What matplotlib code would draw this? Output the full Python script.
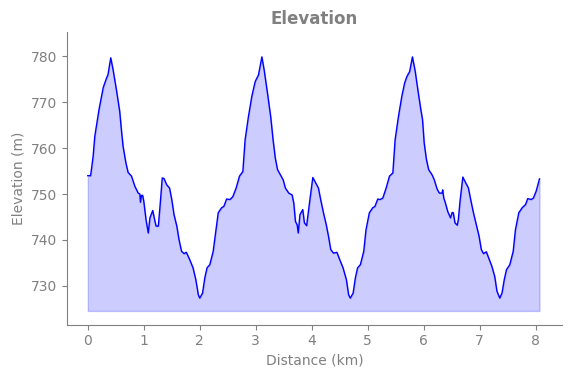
import numpy as np
import matplotlib
matplotlib.use('Agg')
import matplotlib.pyplot as plt

# Perfil de elevación (distancia en km, elevación en m)
distancia_km = [
    0.00, 0.05, 0.095, 0.125, 0.20, 0.275, 0.335, 0.36, 0.41, 0.45,
    0.51, 0.57, 0.60, 0.63, 0.68, 0.72, 0.78, 0.84, 0.90, 0.93,
    0.94, 0.96, 0.98, 1.00, 1.04, 1.08, 1.11, 1.16, 1.20, 1.22,
    1.26, 1.29, 1.33, 1.36, 1.41, 1.46, 1.50, 1.54, 1.59, 1.63,
    1.675, 1.72, 1.76, 1.82, 1.88, 1.93, 1.975, 2.00, 2.05, 2.09,
    2.13, 2.18, 2.24, 2.29, 2.33, 2.39, 2.43, 2.48, 2.54, 2.59,
    2.65, 2.71,
    2.77, 2.81, 2.87, 2.93, 2.99, 3.05, 3.11, 3.15, 3.21, 3.27,
    3.31, 3.35, 3.39, 3.44, 3.49, 3.53, 3.59, 3.65, 3.68, 3.71,
    3.74, 3.76, 3.79, 3.84, 3.87, 3.91, 3.96, 4.02, 4.06, 4.12,
    4.16, 4.21, 4.26, 4.30, 4.34, 4.39, 4.45, 4.50, 4.56, 4.62,
    4.66, 4.69, 4.74, 4.78, 4.82, 4.87, 4.93, 4.97, 5.03, 5.09,
    5.13, 5.18, 5.22, 5.27, 5.33, 5.39, 5.45, 5.49, 5.55, 5.61,
    5.66, 5.70, 5.75,
    5.80, 5.85, 5.91, 5.95, 5.98, 6.01, 6.05, 6.09, 6.15, 6.19,
    6.24, 6.28, 6.33, 6.34, 6.36, 6.39, 6.43, 6.48, 6.51, 6.53,
    6.56, 6.60, 6.62, 6.65, 6.70, 6.74, 6.80, 6.84, 6.89, 6.94,
    6.99, 7.03, 7.07, 7.12, 7.17, 7.22, 7.27, 7.31, 7.36, 7.40,
    7.44, 7.48, 7.54, 7.60, 7.64, 7.70, 7.76, 7.82, 7.86, 7.92,
    7.96, 8.01, 8.07,
]
elevacion_m = [
    754.0, 754.0, 758.2, 762.6, 768.4, 773.2, 775.3, 776.0, 779.7, 777.2,
    772.8, 768.0, 764.0, 760.4, 756.8, 754.7, 753.9, 751.7, 750.2, 750.0,
    748.2, 749.7, 749.7, 748.4, 744.4, 741.5, 744.8, 746.4, 744.0, 743.0,
    743.0, 747.3, 753.5, 753.4, 752.0, 751.3, 748.8, 745.5, 743.0, 740.0,
    737.5, 737.0, 737.3, 735.7, 733.9, 731.3, 728.0, 727.3, 728.4, 731.7,
    733.9, 734.6, 737.5, 742.2, 745.9, 747.0, 747.3, 748.9, 748.8, 749.4,
    751.3, 753.9,
    754.9, 761.8, 766.9, 771.3, 774.5, 776.0, 779.9, 777.1, 772.0, 766.6,
    761.8, 757.8, 755.3, 754.2, 753.1, 751.3, 750.2, 749.8, 748.0, 744.0,
    743.3, 741.5, 745.5, 746.6, 743.7, 743.1, 748.0, 753.6, 752.7, 751.3,
    748.8, 745.9, 743.3, 740.8, 737.9, 737.1, 737.3, 735.7, 733.9, 731.3,
    728.0, 727.3, 728.4, 731.7, 733.9, 734.6, 737.5, 742.2, 745.9, 747.0,
    747.3, 748.9, 748.8, 749.1, 751.3, 753.9, 754.6, 761.8, 766.9, 771.3,
    774.2, 775.6, 776.7,
    779.9, 776.7, 771.6, 768.4, 766.2, 761.1, 757.5, 755.3, 754.2, 753.1,
    751.1, 750.2, 750.2, 750.9, 749.1, 748.0, 746.2, 744.8, 746.0, 745.9,
    743.7, 743.2, 744.4, 748.4, 753.7, 752.7, 751.3, 748.8, 745.9, 743.3,
    740.8, 737.9, 737.0, 737.4, 735.8, 734.2, 732.0, 728.8, 727.3, 728.4,
    731.3, 733.5, 734.6, 737.5, 742.2, 745.9, 747.0, 747.7, 749.0, 748.8,
    749.1, 750.6, 753.3,
]
base_relleno = 724.5

gris = '#808080'

x = np.array(distancia_km)
y = np.array(elevacion_m)

fig = plt.figure(figsize=(5.71, 3.78), dpi=100)
ax = fig.add_axes([0.117, 0.141, 0.868, 0.774])

ax.fill_between(x, y, base_relleno, color='blue', alpha=0.2)
ax.plot(x, y, color='blue', linewidth=1.0)

ax.set_xlim(-0.375, 8.48)
ax.set_ylim(721.5, 785.3)
ax.set_yticks([730, 740, 750, 760, 770, 780])
ax.set_xticks(range(0, 9))

ax.set_title('Elevation', fontsize=12, fontweight='bold', color=gris)
ax.set_xlabel('Distance (km)', fontsize=10, color=gris)
ax.set_ylabel('Elevation (m)', fontsize=10, color=gris)

for lado in ['top', 'right']:
    ax.spines[lado].set_visible(False)
for lado in ['left', 'bottom']:
    ax.spines[lado].set_color(gris)
ax.tick_params(colors=gris, labelcolor=gris, labelsize=10)

fig.savefig('out.png', dpi=100)
